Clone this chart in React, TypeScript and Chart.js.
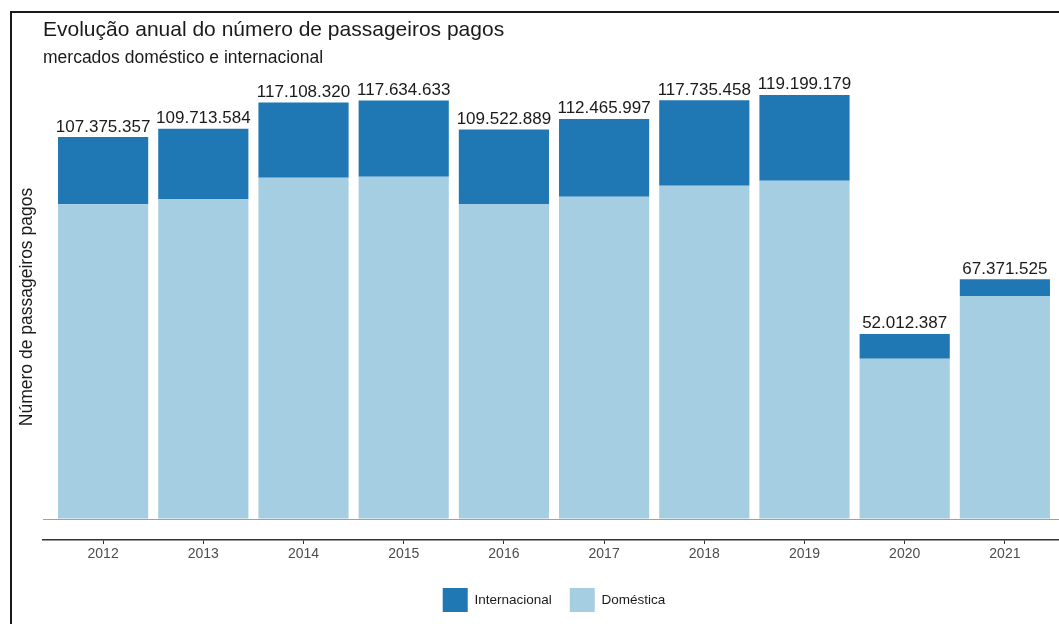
import React, { useEffect, useRef } from "react";
import { Chart, registerables } from "chart.js";

Chart.register(...registerables);

const years = ["2012", "2013", "2014", "2015", "2016", "2017", "2018", "2019", "2020", "2021"];
const totalPassengers = [
  107375357, 109713584, 117108320, 117634633, 109522889,
  112465997, 117735458, 119199179, 52012387, 67371525,
];
const domesticPassengers = [
  88470000, 89960000, 95950000, 96230000, 88560000,
  90610000, 93700000, 95110000, 45070000, 62690000,
];
const internationalPassengers = totalPassengers.map((t, i) => t - domesticPassengers[i]);

const FONT = "'Liberation Sans', Arial, Helvetica, sans-serif";
const COLOR_INT = "#1f78b4";
const COLOR_DOM = "#a6cee3";

const fmt = (n: number) => String(n).replace(/\B(?=(\d{3})+(?!\d))/g, ".");

const totalsPlugin = {
  id: "totalsLabels",
  afterDatasetsDraw(chart: any) {
    const meta = chart.getDatasetMeta(1);
    const ctx = chart.ctx;
    ctx.save();
    ctx.font = `17px ${FONT}`;
    ctx.fillStyle = "#1a1a1a";
    ctx.textAlign = "center";
    ctx.textBaseline = "alphabetic";
    meta.data.forEach((el: any, i: number) => {
      ctx.fillText(fmt(totalPassengers[i]), el.x, el.y - 5.5);
    });
    ctx.restore();
  },
};

export default function App() {
  const ref = useRef<HTMLCanvasElement | null>(null);

  useEffect(() => {
    if (!ref.current) return;
    Chart.defaults.font.family = FONT;
    const chart = new Chart(ref.current, {
      type: "bar",
      data: {
        datasets: [
          {
            label: "Doméstica",
            data: domesticPassengers.map((v, i) => ({ x: i, y: v })),
            backgroundColor: COLOR_DOM,
            borderWidth: 0,
          },
          {
            label: "Internacional",
            data: internationalPassengers.map((v, i) => ({ x: i, y: v })),
            backgroundColor: COLOR_INT,
            borderWidth: 0,
          },
        ],
      },
      options: {
        responsive: false,
        animation: false,
        devicePixelRatio: 1,
        events: [],
        layout: { padding: { left: 0, right: 10, top: 0, bottom: 2 } },
        datasets: {
          bar: { barPercentage: 0.9, categoryPercentage: 1.0 },
        },
        scales: {
          x: {
            type: "linear",
            stacked: true,
            offset: false,
            min: -0.6,
            max: 9.6,
            afterBuildTicks: (scale: any) => {
              scale.ticks = years.map((_, i) => ({ value: i }));
            },
            afterFit: (scale: any) => {
              scale.height = 30;
            },
            ticks: {
              callback: (v: any) => years[v as number] ?? "",
              font: { size: 14 },
              color: "#4d4d4d",
              padding: 2,
              maxRotation: 0,
              autoSkip: false,
            },
            grid: {
              offset: false,
              drawOnChartArea: false,
              drawTicks: true,
              tickLength: 4,
              color: "#333333",
              lineWidth: 1,
            },
            border: { display: true, color: "#333333", width: 1.5 },
          },
          y: {
            stacked: true,
            min: -5.9e6,
            max: 125.1e6,
            afterBuildTicks: (scale: any) => {
              scale.ticks = [{ value: 0 }];
            },
            ticks: { display: false },
            grid: { drawTicks: false, color: "#a0a0a0", lineWidth: 1 },
            border: { display: false },
            title: {
              display: true,
              text: "Número de passageiros pagos",
              font: { size: 17.5 },
              color: "#1a1a1a",
              padding: { top: 16.5, bottom: 5.5 },
            },
          },
        },
        plugins: {
          tooltip: { enabled: false },
          title: {
            display: true,
            text: "Evolução anual do número de passageiros pagos",
            align: "start",
            fullSize: false,
            color: "#1a1a1a",
            font: { size: 21, weight: "normal" },
            padding: { top: 18, bottom: 0 },
          },
          subtitle: {
            display: true,
            text: "mercados doméstico e internacional",
            align: "start",
            fullSize: false,
            color: "#1a1a1a",
            font: { size: 17.5, weight: "normal" },
            padding: { top: 4.2, bottom: 5.6 },
          },
          legend: {
            display: true,
            position: "bottom",
            fullSize: false,
            reverse: true,
            labels: {
              boxWidth: 25,
              boxHeight: 24,
              padding: 18,
              color: "#1a1a1a",
              font: { size: 13.5 },
            },
          },
        },
      },
      plugins: [totalsPlugin],
    } as any);
    return () => chart.destroy();
  }, []);

  return (
    <div
      style={{
        position: "fixed",
        left: 0,
        top: 0,
        width: 1059,
        height: 624,
        overflow: "hidden",
        background: "#ffffff",
      }}
    >
      <canvas ref={ref} width={1075} height={624} style={{ display: "block", width: 1075, height: 624 }} />
      <div
        style={{
          position: "absolute",
          left: 10,
          top: 11,
          width: 1100,
          height: 700,
          borderLeft: "2px solid #1a1a1a",
          borderTop: "2px solid #1a1a1a",
          pointerEvents: "none",
        }}
      />
    </div>
  );
}
